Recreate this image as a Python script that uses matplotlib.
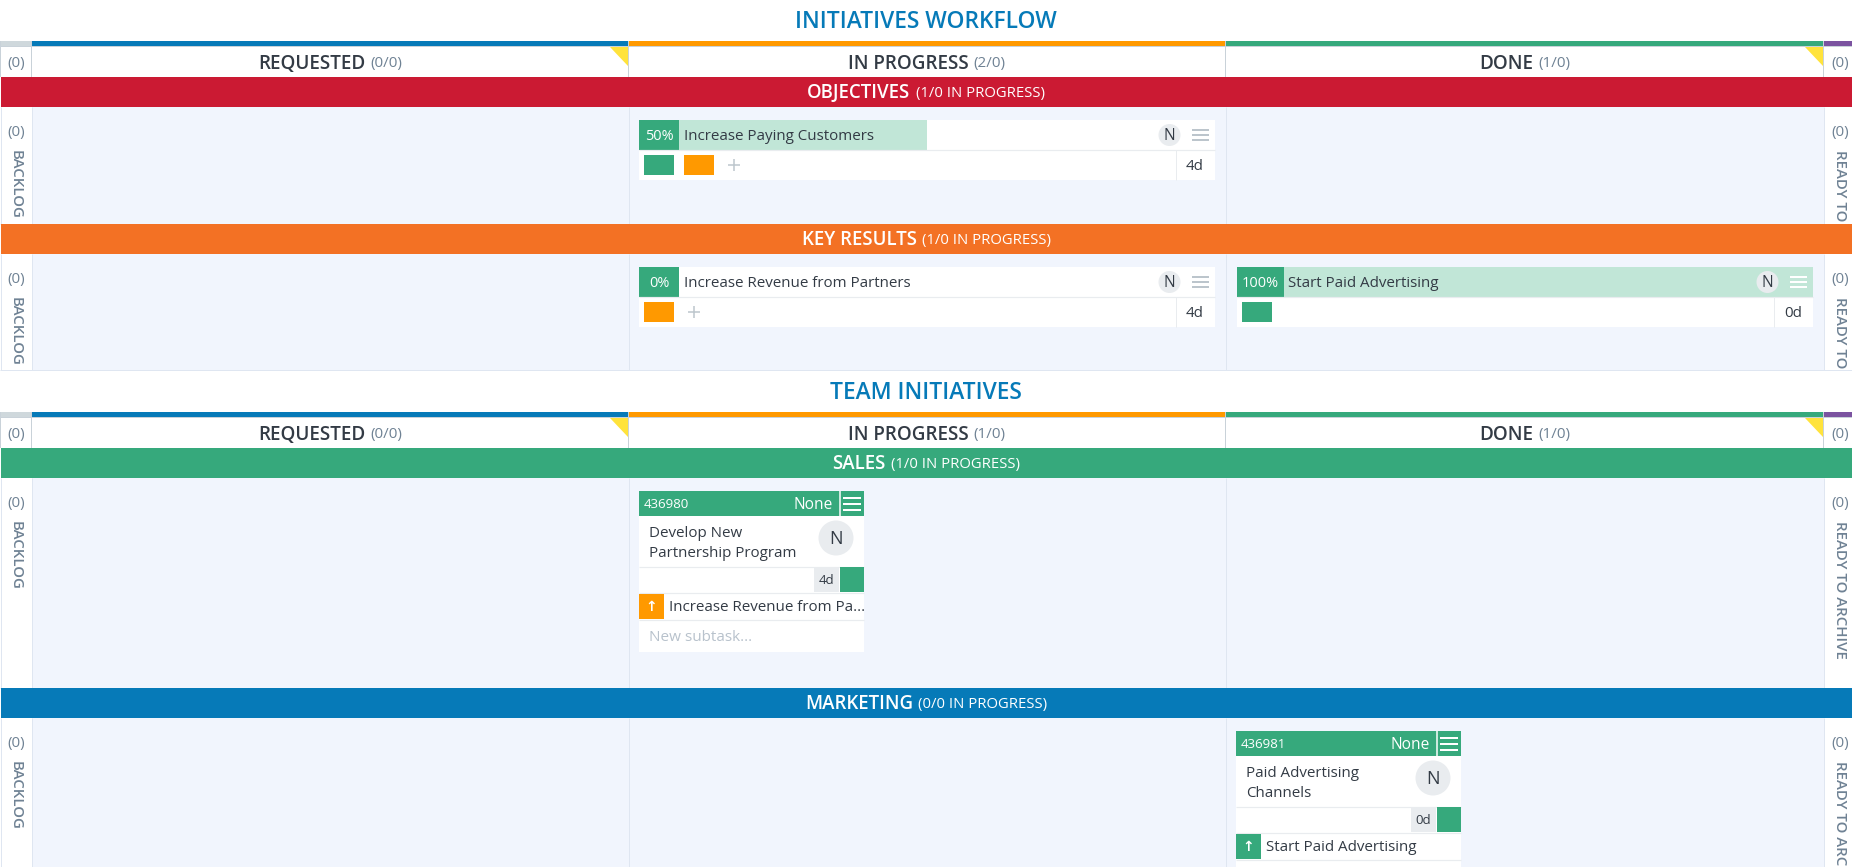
from matplotlib import pyplot as plt
from matplotlib.patches import Circle, Polygon, Rectangle

FONT = ['Open Sans', 'DejaVu Sans']

board_titles = ['INITIATIVES WORKFLOW', 'TEAM INITIATIVES']
column_names = ['REQUESTED', 'IN PROGRESS', 'DONE']
column_counts = [['(0/0)', '(2/0)', '(1/0)'], ['(0/0)', '(1/0)', '(1/0)']]
side_count = '(0)'
backlog_label = 'BACKLOG'
archive_label = 'READY TO ARCHIVE'

lane_names = [['OBJECTIVES', 'KEY RESULTS'], ['SALES', 'MARKETING']]
lane_counts = [['(1/0 IN PROGRESS)', '(1/0 IN PROGRESS)'],
               ['(1/0 IN PROGRESS)', '(0/0 IN PROGRESS)']]

bar_titles = ['Increase Paying Customers', 'Increase Revenue from Partners', 'Start Paid Advertising']
bar_progress = [50, 0, 100]
bar_ages = ['4d', '4d', '0d']
bar_owner = 'N'

task_ids = ['436980', '436981']
task_titles = [['Develop New', 'Partnership Program'], ['Paid Advertising', 'Channels']]
task_ages = ['4d', '0d']
task_parents = ['Increase Revenue from Pa...', 'Start Paid Advertising']
task_priority = 'None'
subtask_hint = 'New subtask...'

BLUE = '#067ab8'
AMBER = '#ff9900'
GREEN = '#36a97c'
RED = '#cb1a33'
ORANGE = '#f37124'
PURPLE = '#7b53a0'
LANE_BG = '#f1f5fd'
LIGHT_GREEN = '#c1e6d7'
YELLOW = '#ffe33c'
EDGE = '#c9d2d9'
LANE_EDGE = '#dfe6f1'
DARK = '#333b45'
MUTED = '#6f8294'

W, H = 1852, 867
COL_X = [31.5, 628.5, 1225.5, 1823.5]

fig = plt.figure(figsize=(W / 100, H / 100), dpi=100)
ax = fig.add_axes([0, 0, 1, 1])
ax.set_xlim(0, W)
ax.set_ylim(H, 0)
ax.axis('off')
renderer = fig.canvas.get_renderer()


def box(x0, y0, x1, y1, color, z=1):
    ax.add_patch(Rectangle((x0, y0), x1 - x0, y1 - y0, fc=color, ec='none', lw=0, zorder=z))


def line(x0, y0, x1, y1, color, lw=1.0, z=2):
    ax.plot([x0, x1], [y0, y1], color=color, lw=lw * 0.72, zorder=z, solid_capstyle='butt')


def label(x, y, s, px, color=DARK, ha='left', weight='normal', rotation=0, va='center', z=5):
    # the browser text sits a little lower than matplotlib's centred box
    dy = 1.8 if rotation == 0 else 0
    return ax.text(x, y + dy, s, fontsize=px * 0.72, color=color, ha=ha, va=va, family=FONT,
                   fontweight=weight, rotation=rotation, zorder=z)


def pair_label(cx, y, main, sub, main_px, sub_px, main_color, sub_color):
    # a heavier word followed by a lighter count, centred together
    a = label(0, y, main, main_px, main_color, weight=600)
    b = label(0, y, sub, sub_px, sub_color)
    wa = a.get_window_extent(renderer).width
    wb = b.get_window_extent(renderer).width
    gap = 5
    left = cx - (wa + gap + wb) / 2
    a.set_x(left)
    b.set_x(left + wa + gap)


def hamburger(x0, x1, ys, color, lw=2):
    for y in ys:
        line(x0, y, x1, y, color, lw, z=4)


def side_labels(top, bottom):
    box(0, top, COL_X[0], bottom, 'white')
    box(COL_X[3], top, W, bottom, 'white')
    line(COL_X[0], top, COL_X[0], bottom, LANE_EDGE)
    line(COL_X[3], top, COL_X[3], bottom, LANE_EDGE)
    line(0.5, top, 0.5, bottom, LANE_EDGE)
    label(16, top + 24, side_count, 15.2, MUTED, ha='center')
    label(1840.5, top + 24, side_count, 15.2, MUTED, ha='center')
    clip = Rectangle((0, top), W, bottom - top, transform=ax.transData)
    for x, s in [(16, backlog_label), (1840.5, archive_label)]:
        t = label(x, top + 43, s, 15, MUTED, ha='center', rotation=270, va='top', weight=600)
        t.set_clip_path(clip)
        t.set_clip_on(True)


def board_header(idx, title_y, strip_top):
    label(W / 2, title_y, board_titles[idx], 22.7, BLUE, ha='center', weight=600)
    box(0, strip_top, W, strip_top + 36.5, EDGE, z=0)
    for x0, x1, color in zip([0] + COL_X, COL_X + [W], ['#cfd8dc', BLUE, AMBER, GREEN, PURPLE]):
        box(x0 + 0.5, strip_top + 0.5, x1 - 0.5, strip_top + 5.5, color)
        box(x0 + 0.5, strip_top + 6.5, x1 - 0.5, strip_top + 36, 'white')
    label(16, strip_top + 21.5, side_count, 15.2, MUTED, ha='center')
    label(1840.5, strip_top + 21.5, side_count, 15.2, MUTED, ha='center')
    for i, name in enumerate(column_names):
        x0, x1 = COL_X[i], COL_X[i + 1]
        pair_label((x0 + x1) / 2, strip_top + 21.5, name, column_counts[idx][i], 18.9, 15.2, DARK, MUTED)
        if i != 1:
            ax.add_patch(Polygon([[x1 - 18.5, strip_top + 6.5], [x1 - 0.5, strip_top + 6.5],
                                  [x1 - 0.5, strip_top + 25]], fc=YELLOW, ec='none', zorder=3))


def lane(board, idx, band_top, band_bottom, bottom, color):
    box(1, band_top, W, band_bottom, color, z=2)
    pair_label(W / 2, (band_top + band_bottom) / 2 - 0.5, lane_names[board][idx], lane_counts[board][idx],
               18.7, 14.85, 'white', '#ffffff')
    box(COL_X[0], band_bottom, COL_X[3], bottom, LANE_BG)
    for x in COL_X[1:3]:
        line(x, band_bottom, x, bottom, LANE_EDGE)
    side_labels(band_bottom, bottom)
    line(0, bottom, W, bottom, LANE_EDGE)


def bar_card(i, x0, x1, top, squares):
    width = x1 - x0
    box(x0, top, x1, top + 60, 'white', z=3)
    ax.barh(top + 14.75, width * bar_progress[i] / 100, height=29.5, left=x0, color=LIGHT_GREEN, zorder=3)
    box(x0, top, x0 + (47.5 if bar_progress[i] == 100 else 40), top + 29.5, GREEN, z=4)
    cx = x0 + (23.5 if bar_progress[i] == 100 else 20)
    label(cx, top + 14.5, '%d%%' % bar_progress[i], 14.5, 'white', ha='center')
    label(x0 + (52 if bar_progress[i] == 100 else 45), top + 14.5, bar_titles[i], 15.1)
    line(x0, top + 29.8, x1, top + 29.8, '#e9ecef', 1.2, z=4)
    ax.add_patch(Circle((x1 - 45.5, top + 15), 11, fc='#e9ecef', ec='none', zorder=4))
    label(x1 - 45.5, top + 14, bar_owner, 15.5, ha='center')
    ham = 'white' if bar_progress[i] == 100 else '#bcc5cc'
    hamburger(x1 - 23.5, x1 - 6.5, [top + 10, top + 15, top + 20], ham)
    line(x1 - 39.5, top + 30, x1 - 39.5, top + 60, '#e9ecef', z=4)
    label(x1 - 20, top + 44.5, bar_ages[i], 15.1, ha='center')
    sx = x0 + 5
    for color in squares:
        box(sx, top + 35, sx + 30, top + 55, color, z=4)
        sx += 40
    if i != 2:
        line(sx + 4, top + 45, sx + 16, top + 45, '#bcc5cc', 1.5, z=4)
        line(sx + 10, top + 39, sx + 10, top + 51, '#bcc5cc', 1.5, z=4)


def task_card(i, x0, top, parent_color):
    x1 = x0 + 225
    box(x0, top, x1, top + 161, 'white', z=3)
    box(x0, top, x1, top + 25, GREEN, z=4)
    line(x1 - 24.5, top, x1 - 24.5, top + 25, 'white', 1.5, z=5)
    label(x0 + 5, top + 12, task_ids[i], 13.2, 'white')
    label(x1 - 31, top + 12, task_priority, 15.5, 'white', ha='right')
    hamburger(x1 - 21, x1 - 3, [top + 7, top + 13, top + 19], 'white')
    label(x0 + 10, top + 40.5, task_titles[i][0], 15.1)
    label(x0 + 10, top + 60.5, task_titles[i][1], 15.1)
    ax.add_patch(Circle((x1 - 28, top + 47), 17.5, fc='#e9ecef', ec='none', zorder=4))
    label(x1 - 28, top + 46, bar_owner, 18, ha='center')
    line(x0, top + 75.5, x1, top + 75.5, '#e9ecef', 1.2, z=4)
    box(x1 - 50, top + 76, x1 - 25, top + 101, '#e9ecef', z=4)
    label(x1 - 37.5, top + 88, task_ages[i], 13.2, ha='center')
    box(x1 - 24, top + 76, x1, top + 101, GREEN, z=4)
    line(x0, top + 102, x1, top + 102, '#e9ecef', 1.2, z=4)
    box(x0, top + 103, x0 + 25, top + 128, parent_color, z=4)
    label(x0 + 12.5, top + 114, '\u2191', 14, 'white', ha='center', weight='bold')
    label(x0 + 30, top + 115, task_parents[i], 15.1)
    line(x0, top + 128.5, x1, top + 128.5, '#e9ecef', 1.2, z=4)
    label(x0 + 10, top + 145, subtask_hint, 15.2, '#b8c2cc')


board_header(0, 20, 40.5)
lane(0, 0, 77, 107, 223.5, RED)
lane(0, 1, 224, 254, 370, ORANGE)
bar_card(0, 639, 1215, 120, [GREEN, AMBER])
bar_card(1, 639, 1215, 267, [AMBER])
bar_card(2, 1236.5, 1813, 267, [GREEN])

board_header(1, 391, 411.5)
lane(1, 0, 448, 478, 687.5, GREEN)
lane(1, 1, 688, 718, H, BLUE)
task_card(0, 639, 491, AMBER)
task_card(1, 1236, 731, GREEN)

fig.savefig('out.png', dpi=100)
